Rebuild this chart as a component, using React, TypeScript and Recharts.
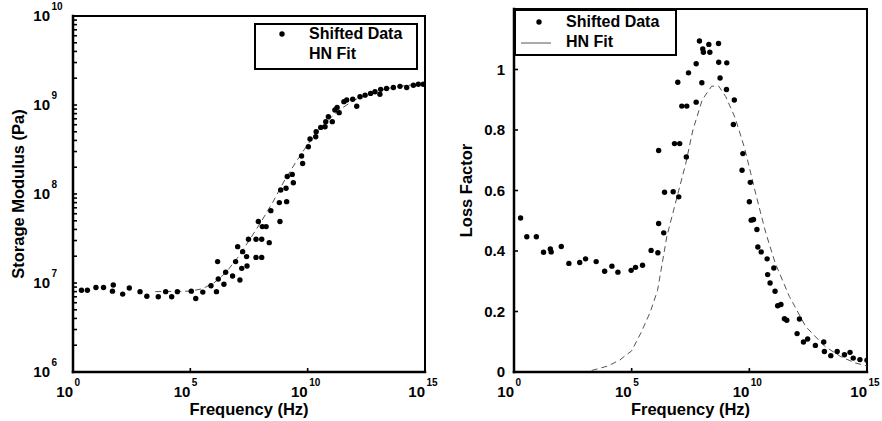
import React from 'react';
import { ComposedChart, Scatter, XAxis, YAxis, Legend } from 'recharts';

const FONT = '"Liberation Sans", Arial, Helvetica, sans-serif';

// ---------- Storage modulus (left) ----------
const modFreq = [
  2.3, 4.1, 9.5, 20, 52, 48, 131, 251, 720, 1.4e3, 4.3e3, 8.9e3, 1.6e4, 2.8e4, 1.1e5, 1.7e5, 3.4e5, 7.6e5,
  1.3e6, 1.45e6, 1.55e6, 2.7e6, 3.2e6, 6.3e6, 8.5e6, 1.04e7, 1.3e7, 1.55e7, 1.7e7, 2.5e7, 2.6e7, 3.0e7,
  6.3e7, 6.3e7, 7.9e7, 1.1e8, 1.1e8, 1.17e8, 1.7e8, 2.3e8, 2.7e8, 6.2e8, 6.6e8, 7.1e8, 1.2e9, 1.27e9,
  1.35e9, 2.2e9, 2.45e9, 5.5e9, 6.1e9, 1.07e10, 1.26e10, 2.2e10, 2.3e10, 3.6e10, 5.5e10, 5.9e10, 7.6e10,
  1.12e11, 1.45e11, 1.8e11, 2.2e11, 3.5e11, 4.6e11, 8.3e11, 1.23e12, 1.7e12, 2.8e12, 4.8e12, 7.4e12,
  1.2e13, 1.29e13, 2.3e13, 4.5e13, 8.6e13, 1.66e14, 3.2e14, 5.2e14, 8.5e14,
];
const modValue = [
  8.3e6, 8.3e6, 8.9e6, 8.9e6, 9.5e6, 8.1e6, 7.5e6, 8.8e6, 8.0e6, 7.1e6, 7.0e6, 8.0e6, 7.0e6, 8.0e6, 8.1e6, 6.7e6, 7.9e6, 9.3e6,
  8.0e6, 1.74e7, 1.11e7, 9.7e6, 1.32e7, 1.2e7, 1.74e7, 2.56e7, 1.08e7, 1.46e7, 2.25e7, 1.98e7, 1.55e7, 3.1e7,
  3.1e7, 1.94e7, 4.9e7, 1.94e7, 3.1e7, 4.3e7, 4.3e7, 2.84e7, 6.5e7, 8.0e7, 4.9e7, 1.11e8, 1.16e8, 8.2e7,
  1.57e8, 1.66e8, 1.34e8, 2.67e8, 2.2e8, 3.4e8, 4.15e8, 4.4e8, 5.0e8, 5.6e8, 5.7e8, 6.5e8, 7.4e8,
  6.5e8, 8.8e8, 9.4e8, 8.2e8, 1.09e9, 1.14e9, 1.16e9, 9.7e8, 1.24e9, 1.29e9, 1.35e9, 1.41e9,
  1.32e9, 1.5e9, 1.53e9, 1.57e9, 1.62e9, 1.57e9, 1.67e9, 1.71e9, 1.71e9,
];
const modFitFreq = [
  3.2e3, 1e5, 3.2e5, 1e6, 3.2e6, 1e7, 3.2e7, 1e8, 3.2e8, 1e9, 3.2e9, 1e10, 3.2e10, 1e11, 3.2e11, 1e12,
  3.2e12, 1e13, 3.2e13, 1e14, 3.2e14, 1e15,
];
const modFitValue = [
  8.0e6, 8.1e6, 8.6e6, 1.0e7, 1.3e7, 1.9e7, 3.0e7, 4.8e7, 8.0e7, 1.4e8, 2.3e8, 3.6e8, 5.3e8, 7.3e8, 9.4e8, 1.14e9,
  1.3e9, 1.45e9, 1.55e9, 1.63e9, 1.69e9, 1.73e9,
];

// ---------- Loss factor (right) ----------
const lossFreq = [
  1.9, 3.5, 8.9, 18, 35, 38, 102, 215, 620, 1.1e3, 3.1e3, 7.1e3, 1.45e4, 2.6e4, 9.5e4, 1.46e5, 2.9e5, 6.7e5,
  1.3e6, 1.4e6, 1.4e6, 2.5e6, 2.3e6, 5.8e6, 6.6e6, 9.1e6, 1.0e7, 1.1e7, 1.35e7, 2.2e7, 2.1e7, 2.6e7,
  5.5e7, 5.5e7, 7.6e7, 9.6e7, 1.05e8, 1.12e8, 1.9e8, 2.1e8, 4.9e8, 5.0e8, 5.7e8, 1.1e9, 1.07e9, 2.3e9,
  2.1e9, 5.3e9, 4.9e9, 1.1e10, 1.0e10, 1.2e10, 1.5e10, 2.1e10, 2.3e10, 3.2e10, 5.7e10, 6.0e10, 7.6e10,
  1.1e11, 1.24e11, 1.6e11, 2.2e11, 3.1e11, 3.9e11, 1.07e12, 1.35e12, 2.0e12, 3.0e12, 6.4e12, 1.45e13,
  1.55e13, 2.9e13, 5.4e13, 1.1e14, 1.9e14, 2.6e14, 5.0e14, 1.0e15,
];
const lossValue = [
  0.509, 0.447, 0.447, 0.396, 0.407, 0.397, 0.415, 0.359, 0.362, 0.374, 0.365, 0.333, 0.35, 0.33, 0.336, 0.346, 0.353, 0.402,
  0.394, 0.732, 0.491, 0.594, 0.46, 0.596, 0.755, 0.958, 0.579, 0.755, 0.879, 0.879, 0.711, 0.989,
  0.892, 1.019, 1.094, 0.956, 1.068, 1.057, 1.083, 1.057, 1.086, 1.024, 0.972, 1.022, 0.934, 0.899,
  0.818, 0.722, 0.667, 0.627, 0.563, 0.502, 0.504, 0.471, 0.413, 0.397, 0.374, 0.322, 0.294,
  0.344, 0.267, 0.219, 0.223, 0.176, 0.171, 0.127, 0.175, 0.099, 0.109, 0.088, 0.099,
  0.068, 0.054, 0.068, 0.057, 0.065, 0.046, 0.041, 0.039,
];
const lossFitFreq = [
  2.0e3, 1e4, 3.16e4, 1e5, 2.5e5, 6.3e5, 1.26e6, 3.16e6, 1e7, 2e7, 4e7, 1e8, 2.5e8, 5e8, 1e9, 2.5e9, 6.3e9,
  2e10, 5e10, 1.26e11, 5e11, 2.5e12, 1.6e13, 8e13, 3.16e14, 1e15,
];
const lossFitValue = [
  0.005, 0.02, 0.04, 0.07, 0.13, 0.2, 0.27, 0.45, 0.6, 0.69, 0.8, 0.9, 0.945, 0.945, 0.91, 0.84, 0.74,
  0.58, 0.46, 0.36, 0.25, 0.15, 0.085, 0.05, 0.03, 0.02,
];

// ---------- Ticks ----------
const freqTicks = [1, 1e5, 1e10, 1e15];
const modulusTicks = [1e6, 1e7, 1e8, 1e9, 1e10];
const minorMultipliers = [2, 3, 4, 5, 6, 7, 8, 9];
const lossTicks = [0, 0.2, 0.4, 0.6, 0.8, 1];
const lossTickLabels = ['0', '0.2', '0.4', '0.6', '0.8', '1'];

const modulusAllTicks = [
  ...modulusTicks,
  ...modulusTicks.slice(0, -1).flatMap((d) => minorMultipliers.map((m) => m * d)),
].sort((a, b) => a - b);

const toPoints = (xs: number[], ys: number[]) => xs.map((f, i) => ({ f, v: ys[i] }));
const modData = toPoints(modFreq, modValue);
const modFit = toPoints(modFitFreq, modFitValue);
const lossData = toPoints(lossFreq, lossValue);
const lossFit = toPoints(lossFitFreq, lossFitValue);

const TXT = { fontFamily: FONT, fontWeight: 'bold' as const, fill: '#000' };
const TEN_W = 16.7;

function PowTickX(props: any) {
  const { x, y, payload } = props;
  const e = Math.round(Math.log10(payload.value));
  return (
    <text x={x - TEN_W} y={y} textAnchor="start" fontSize={15} {...TXT}>
      <tspan>10</tspan>
      <tspan dx={1.5} dy={-11} fontSize={10}>{e}</tspan>
    </text>
  );
}

function PowTickY(props: any) {
  const { x, y, payload } = props;
  const l = Math.log10(payload.value);
  if (Math.abs(l - Math.round(l)) > 1e-6) return <g />;
  return (
    <text x={x - TEN_W} y={y + 5} textAnchor="start" fontSize={15} {...TXT}>
      <tspan>10</tspan>
      <tspan dx={1.5} dy={-11} fontSize={10}>{Math.round(l)}</tspan>
    </text>
  );
}

function LossTick(props: any) {
  const { x, y, payload } = props;
  const idx = lossTicks.findIndex((t) => Math.abs(t - payload.value) < 1e-9);
  return (
    <text x={x} y={y + 5} textAnchor="end" fontSize={15} {...TXT}>
      {idx >= 0 ? lossTickLabels[idx] : ''}
    </text>
  );
}

const xTitle = (text: string) => (p: any) => {
  const vb = p.viewBox || { x: 73, y: 372, width: 352, height: 49 };
  return (
    <text x={vb.x + vb.width / 2} y={vb.y + 43} textAnchor="middle" fontSize={16.5} {...TXT}>
      {text}
    </text>
  );
};

const yTitle = (text: string, dx: number) => (p: any) => {
  const vb = p.viewBox || { x: 0, y: 16, width: 73, height: 356 };
  const cx = vb.x + dx;
  const cy = vb.y + vb.height / 2;
  return (
    <text
      x={cx}
      y={cy}
      textAnchor="middle"
      dominantBaseline="central"
      transform={`rotate(-90, ${cx}, ${cy})`}
      fontSize={16.5}
      {...TXT}
    >
      {text}
    </text>
  );
};

const Dot = (p: any) => <circle cx={p.cx} cy={p.cy} r={2.7} fill="#000" />;
const NoShape = () => <g />;

const AXIS_MAIN = { stroke: '#000', strokeWidth: 2.5, strokeLinecap: 'square' as const };
const AXIS_SIDE = { stroke: '#000', strokeWidth: 2, strokeLinecap: 'square' as const };
const TICKLINE = { stroke: '#000', strokeWidth: 1.6 };
const FIT_LINE = { stroke: '#555', strokeWidth: 1, strokeDasharray: '6 4' };

function LegendLeft() {
  return (
    <svg width={164} height={47} style={{ display: 'block' }}>
      <rect x={1} y={1} width={162} height={45} fill="#fff" stroke="#000" strokeWidth={2} />
      <circle cx={28} cy={11} r={2.7} fill="#000" />
      <text x={55} y={16} fontSize={16} {...TXT}>Shifted Data</text>
      <text x={55} y={36} fontSize={16} {...TXT}>HN Fit</text>
    </svg>
  );
}

function LegendRight() {
  return (
    <svg width={163} height={47} style={{ display: 'block' }}>
      <rect x={1} y={1} width={161} height={45} fill="#fff" stroke="#000" strokeWidth={2} />
      <circle cx={25} cy={13} r={2.7} fill="#000" />
      <line x1={7} x2={37} y1={34} y2={34} stroke="#555" strokeWidth={1} />
      <text x={52} y={18} fontSize={16} {...TXT}>Shifted Data</text>
      <text x={52} y={38} fontSize={16} {...TXT}>HN Fit</text>
    </svg>
  );
}

function StorageChart() {
  return (
    <ComposedChart width={441} height={421} margin={{ top: 15, right: 15, bottom: 0, left: 0 }}>
      <XAxis
        xAxisId="bottom" dataKey="f" type="number" scale="log" domain={[1, 1e15]} allowDataOverflow
        ticks={freqTicks} interval={0} orientation="bottom" height={49}
        axisLine={AXIS_MAIN} tickLine={TICKLINE} tickSize={-4} tickMargin={29}
        tick={(p: any) => <PowTickX {...p} />}
        label={{ content: xTitle('Frequency (Hz)') }}
      />
      <XAxis
        xAxisId="top" dataKey="f" type="number" scale="log" domain={[1, 1e15]} allowDataOverflow
        ticks={freqTicks} interval={0} orientation="top" height={1}
        axisLine={AXIS_SIDE} tickLine={TICKLINE} tickSize={-4} tick={false}
      />
      <YAxis
        yAxisId="left" dataKey="v" type="number" scale="log" domain={[1e6, 1e10]} allowDataOverflow
        ticks={modulusAllTicks} interval={0} orientation="left" width={73}
        axisLine={AXIS_MAIN} tickLine={TICKLINE} tickSize={-4} tickMargin={27}
        tick={(p: any) => <PowTickY {...p} />}
        label={{ content: yTitle('Storage Modulus (Pa)', 18) }}
      />
      <YAxis
        yAxisId="right" dataKey="v" type="number" scale="log" domain={[1e6, 1e10]} allowDataOverflow
        ticks={modulusAllTicks} interval={0} orientation="right" width={1}
        axisLine={AXIS_SIDE} tickLine={TICKLINE} tickSize={-4} tick={false}
      />
      <Scatter
        name="HN Fit" xAxisId="top" yAxisId="right" data={modFit} line={FIT_LINE} lineType="joint"
        shape={NoShape} isAnimationActive={false} legendType="none"
      />
      <Scatter
        name="Shifted Data" xAxisId="bottom" yAxisId="left" data={modData} shape={Dot}
        isAnimationActive={false}
      />
      <Legend
        layout="horizontal" verticalAlign="middle" align="center"
        wrapperStyle={{ left: 254, top: 23, width: 164, height: 47, margin: 0, padding: 0 }}
        content={() => <LegendLeft />}
      />
    </ComposedChart>
  );
}

function LossChart() {
  return (
    <ComposedChart width={441} height={421} margin={{ top: 8, right: 14, bottom: 0, left: 0 }}>
      <XAxis
        xAxisId="bottom" dataKey="f" type="number" scale="log" domain={[1, 1e15]} allowDataOverflow
        ticks={freqTicks} interval={0} orientation="bottom" height={49}
        axisLine={AXIS_MAIN} tickLine={TICKLINE} tickSize={-4} tickMargin={29}
        tick={(p: any) => <PowTickX {...p} />}
        label={{ content: xTitle('Frequency (Hz)') }}
      />
      <XAxis
        xAxisId="top" dataKey="f" type="number" scale="log" domain={[1, 1e15]} allowDataOverflow
        ticks={freqTicks} interval={0} orientation="top" height={1}
        axisLine={AXIS_SIDE} tickLine={TICKLINE} tickSize={-4} tick={false}
      />
      <YAxis
        yAxisId="left" dataKey="v" type="number" domain={[0, 1.2]} allowDataOverflow
        ticks={lossTicks} interval={0} orientation="left" width={73}
        axisLine={AXIS_MAIN} tickLine={TICKLINE} tickSize={-4} tickMargin={13}
        tick={(p: any) => <LossTick {...p} />}
        label={{ content: yTitle('Loss Factor', 25) }}
      />
      <YAxis
        yAxisId="right" dataKey="v" type="number" domain={[0, 1.2]} allowDataOverflow
        ticks={lossTicks} interval={0} orientation="right" width={1}
        axisLine={AXIS_SIDE} tickLine={TICKLINE} tickSize={-4} tick={false}
      />
      <Scatter
        name="HN Fit" xAxisId="top" yAxisId="right" data={lossFit} line={FIT_LINE} lineType="joint"
        shape={NoShape} isAnimationActive={false} legendType="none"
      />
      <Scatter
        name="Shifted Data" xAxisId="bottom" yAxisId="left" data={lossData} shape={Dot}
        isAnimationActive={false}
      />
      <Legend
        layout="horizontal" verticalAlign="middle" align="center"
        wrapperStyle={{ left: 73, top: 9, width: 163, height: 47, margin: 0, padding: 0 }}
        content={() => <LegendRight />}
      />
    </ComposedChart>
  );
}

export default function App() {
  return (
    <div style={{ position: 'absolute', left: 0, top: 0, width: 882, height: 421, background: '#fff', overflow: 'hidden' }}>
      <div style={{ position: 'absolute', left: 0, top: 0 }}>
        <StorageChart />
      </div>
      <div style={{ position: 'absolute', left: 441, top: 0 }}>
        <LossChart />
      </div>
    </div>
  );
}
